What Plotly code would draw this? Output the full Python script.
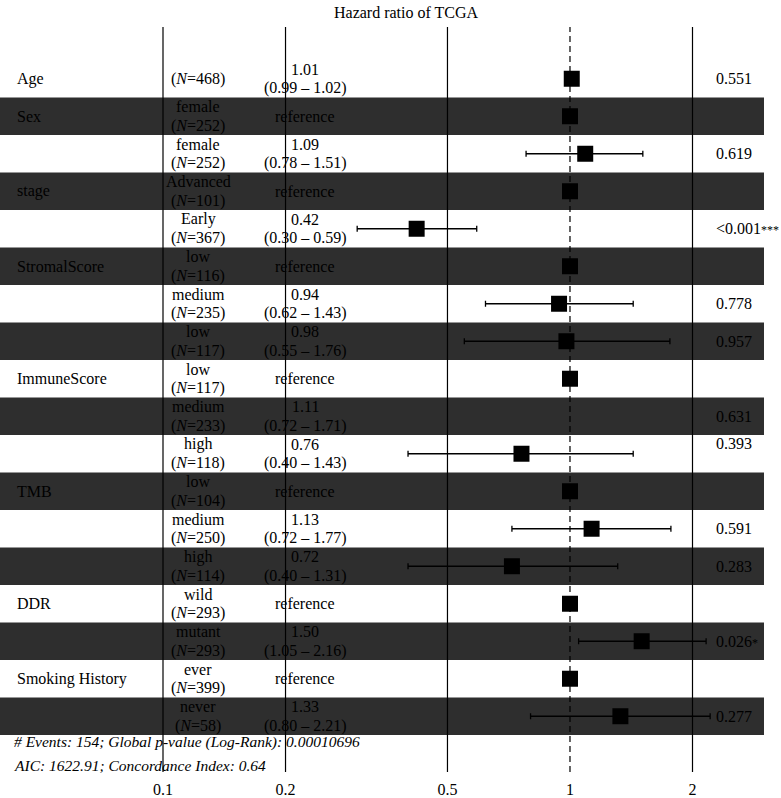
import plotly.graph_objects as go

# ---- data ----
variables = ["Age", "Sex", "", "stage", "", "StromalScore", "", "", "ImmuneScore", "", "",
             "TMB", "", "", "DDR", "", "Smoking History", ""]
levels = ["", "female", "female", "Advanced", "Early", "low", "medium", "low", "low", "medium", "high",
          "low", "medium", "high", "wild", "mutant", "ever", "never"]
n_obs = [468, 252, 252, 101, 367, 116, 235, 117, 117, 233, 118, 104, 250, 114, 293, 293, 399, 58]
hr = [1.01, 1.00, 1.09, 1.00, 0.42, 1.00, 0.94, 0.98, 1.00, 1.11, 0.76, 1.00, 1.13, 0.72, 1.00, 1.50, 1.00, 1.33]
ci_low = [0.99, None, 0.78, None, 0.30, None, 0.62, 0.55, None, 0.72, 0.40, None, 0.72, 0.40, None, 1.05, None, 0.80]
ci_high = [1.02, None, 1.51, None, 0.59, None, 1.43, 1.76, None, 1.71, 1.43, None, 1.77, 1.31, None, 2.16, None, 2.21]
is_reference = [False, True, False, True, False, True, False, False, True, False, False, True, False, False, True, False, True, False]
p_values = ["0.551", "", "0.619", "", "<0.001***", "", "0.778", "0.957", "", "0.631", "0.393",
            "", "0.591", "0.283", "", "0.026*", "", "0.277"]
marker_drawn = [True] * 18
marker_drawn[9] = False  # ImmuneScore medium has no point in the reference
tick_values = [0.1, 0.2, 0.5, 1, 2]
tick_labels = ["0.1", "0.2", "0.5", "1", "2"]
title_text = "Hazard ratio of TCGA"
footer_lines = ["# Events: 154; Global p-value (Log-Rank): 0.00010696",
                "AIC: 1622.91; Concordance Index: 0.64"]

# ---- figure ----
FONT = "Liberation Serif"
FS = 16
BAND = "#2e2e2e"
LINE_GAP = 9.5
rows = list(range(1, len(levels) + 1))

fig = go.Figure()

shapes = []
for r in rows:
    if r % 2 == 0:
        shapes.append(dict(type="rect", xref="paper", yref="y", x0=0, x1=1, y0=r - 0.5, y1=r + 0.5,
                           fillcolor=BAND, line_width=0, layer="below"))
for v in tick_values:
    shapes.append(dict(type="line", xref="x", yref="paper", x0=v, x1=v, y0=0, y1=1,
                       line=dict(color="black", width=1.2, dash="6px,4px" if v == 1 else "solid"),
                       layer="below"))

xs, ys, ep, em = [], [], [], []
for i, r in enumerate(rows):
    if not marker_drawn[i]:
        continue
    xs.append(hr[i])
    ys.append(r)
    if ci_low[i] is None:
        ep.append(0)
        em.append(0)
    else:
        ep.append(ci_high[i] - hr[i])
        em.append(hr[i] - ci_low[i])

fig.add_trace(go.Scatter(
    x=xs, y=ys, mode="markers",
    marker=dict(symbol="square", size=16, color="black"),
    error_x=dict(type="data", symmetric=False, array=ep, arrayminus=em,
                 color="black", thickness=1.3, width=3),
    hoverinfo="skip", showlegend=False,
))

W = 764
ann = []


def add_text(xpx, r, lines, anchor="center", **kw):
    if len(lines) == 1:
        shifts = [0]
    else:
        shifts = [LINE_GAP, -LINE_GAP]
    for t, s in zip(lines, shifts):
        d = dict(x=xpx / W, y=r, xref="paper", yref="y", text=t, yshift=s,
                 showarrow=False, xanchor=anchor, yanchor="middle")
        d.update(kw)
        ann.append(d)


def fmt_p(p):
    stars = len(p) - len(p.rstrip("*"))
    if stars:
        return p.rstrip("*") + '<span style="font-size:12px">' + "*" * stars + "</span>"
    return p


for i, r in enumerate(rows):
    if variables[i]:
        add_text(15, r, [variables[i]], anchor="left")
    nline = f"(<i>N</i>={n_obs[i]})"
    add_text(198, r, [levels[i], nline] if levels[i] else [nline])
    if is_reference[i]:
        add_text(305, r, ["reference"])
    else:
        add_text(305, r, [f"{hr[i]:.2f}", f"({ci_low[i]:.2f} – {ci_high[i]:.2f})"])
    if p_values[i]:
        yoff = -0.28 if p_values[i] == "0.393" else 0
        add_text(714, r + yoff, [fmt_p(p_values[i])], anchor="left")

ann.append(dict(x=406 / W, y=1, xref="paper", yref="paper", yanchor="middle", yshift=15,
                text=title_text, showarrow=False, xanchor="center"))
add_text(12, 18.69, ["<i>" + footer_lines[0] + "</i>"], anchor="left", font=dict(size=15.5))
add_text(12, 19.32, ["<i>" + footer_lines[1] + "</i>"], anchor="left", font=dict(size=15.5))

fig.update_layout(
    width=781, height=798,
    margin=dict(l=0, r=17, t=27, b=26, autoexpand=False),
    paper_bgcolor="white", plot_bgcolor="white",
    font=dict(family=FONT, size=FS, color="black"),
    shapes=shapes, annotations=ann,
    xaxis=dict(type="log", range=[-1.4005, 0.4767], tickvals=tick_values, ticktext=tick_labels,
               showgrid=False, zeroline=False, showline=False, automargin=False,
               ticks="outside", ticklen=3, tickcolor="rgba(0,0,0,0)",
               tickfont=dict(family=FONT, size=FS)),
    yaxis=dict(range=[19.487, -0.38], showgrid=False, zeroline=False, showline=False,
               showticklabels=False, ticks="", automargin=False),
)

fig.write_html("out.html", config={"displayModeBar": False},
               post_script="document.body.style.margin='0';document.body.style.overflow='hidden';")
